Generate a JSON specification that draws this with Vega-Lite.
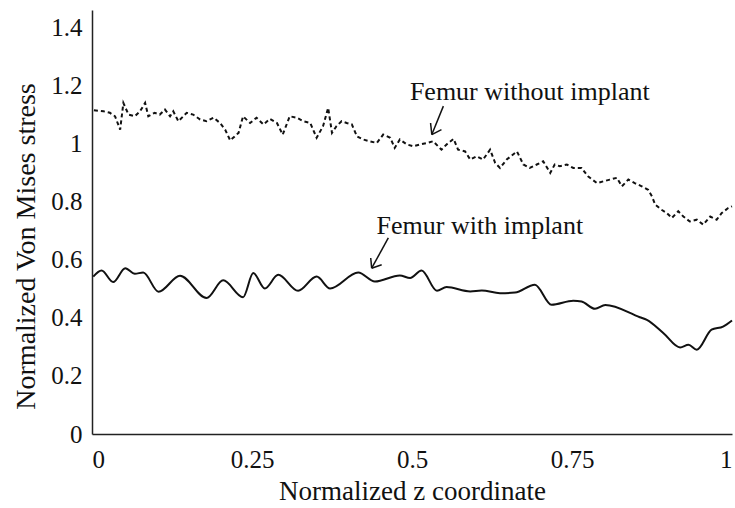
{
  "$schema": "https://vega.github.io/schema/vega-lite/v6.json",
  "width": 640,
  "height": 424,
  "autosize": {"type": "none"},
  "padding": {"left": 92, "top": 10, "right": 3, "bottom": 74},
  "background": "white",
  "config": {
    "view": {"stroke": null},
    "font": "Liberation Serif",
    "axis": {
      "ticks": false,
      "grid": false,
      "domainColor": "#222222",
      "domainWidth": 1.5,
      "labelFont": "Liberation Serif",
      "labelFontSize": 25,
      "labelColor": "#111111",
      "titleFont": "Liberation Serif",
      "titleFontSize": 27,
      "titleFontWeight": "normal",
      "titleColor": "#111111"
    }
  },
  "datasets": {
    "curves": [
      {"s": "with", "x": 0.002, "y": 0.542},
      {"s": "with", "x": 0.015, "y": 0.563},
      {"s": "with", "x": 0.033, "y": 0.523},
      {"s": "with", "x": 0.052, "y": 0.571},
      {"s": "with", "x": 0.067, "y": 0.552},
      {"s": "with", "x": 0.080, "y": 0.556},
      {"s": "with", "x": 0.104, "y": 0.490},
      {"s": "with", "x": 0.1375, "y": 0.545},
      {"s": "with", "x": 0.179, "y": 0.468},
      {"s": "with", "x": 0.205, "y": 0.529},
      {"s": "with", "x": 0.236, "y": 0.471},
      {"s": "with", "x": 0.252, "y": 0.554},
      {"s": "with", "x": 0.270, "y": 0.501},
      {"s": "with", "x": 0.291, "y": 0.548},
      {"s": "with", "x": 0.322, "y": 0.493},
      {"s": "with", "x": 0.351, "y": 0.542},
      {"s": "with", "x": 0.372, "y": 0.501},
      {"s": "with", "x": 0.416, "y": 0.556},
      {"s": "with", "x": 0.442, "y": 0.525},
      {"s": "with", "x": 0.481, "y": 0.546},
      {"s": "with", "x": 0.497, "y": 0.537},
      {"s": "with", "x": 0.515, "y": 0.563},
      {"s": "with", "x": 0.539, "y": 0.493},
      {"s": "with", "x": 0.554, "y": 0.506},
      {"s": "with", "x": 0.591, "y": 0.491},
      {"s": "with", "x": 0.609, "y": 0.494},
      {"s": "with", "x": 0.6375, "y": 0.485},
      {"s": "with", "x": 0.661, "y": 0.487},
      {"s": "with", "x": 0.692, "y": 0.514},
      {"s": "with", "x": 0.718, "y": 0.445},
      {"s": "with", "x": 0.752, "y": 0.459},
      {"s": "with", "x": 0.765, "y": 0.456},
      {"s": "with", "x": 0.786, "y": 0.431},
      {"s": "with", "x": 0.802, "y": 0.444},
      {"s": "with", "x": 0.856, "y": 0.402},
      {"s": "with", "x": 0.867, "y": 0.393},
      {"s": "with", "x": 0.893, "y": 0.347},
      {"s": "with", "x": 0.919, "y": 0.298},
      {"s": "with", "x": 0.932, "y": 0.307},
      {"s": "with", "x": 0.945, "y": 0.290},
      {"s": "with", "x": 0.968, "y": 0.359},
      {"s": "with", "x": 0.986, "y": 0.370},
      {"s": "with", "x": 1.0, "y": 0.391},
      {"s": "without", "x": 0.003, "y": 1.115},
      {"s": "without", "x": 0.018, "y": 1.111},
      {"s": "without", "x": 0.028, "y": 1.106},
      {"s": "without", "x": 0.036, "y": 1.094},
      {"s": "without", "x": 0.044, "y": 1.048},
      {"s": "without", "x": 0.049, "y": 1.140},
      {"s": "without", "x": 0.057, "y": 1.100},
      {"s": "without", "x": 0.067, "y": 1.094},
      {"s": "without", "x": 0.075, "y": 1.111},
      {"s": "without", "x": 0.083, "y": 1.140},
      {"s": "without", "x": 0.088, "y": 1.094},
      {"s": "without", "x": 0.098, "y": 1.106},
      {"s": "without", "x": 0.106, "y": 1.100},
      {"s": "without", "x": 0.114, "y": 1.117},
      {"s": "without", "x": 0.122, "y": 1.094},
      {"s": "without", "x": 0.127, "y": 1.111},
      {"s": "without", "x": 0.135, "y": 1.077},
      {"s": "without", "x": 0.148, "y": 1.106},
      {"s": "without", "x": 0.158, "y": 1.100},
      {"s": "without", "x": 0.169, "y": 1.083},
      {"s": "without", "x": 0.179, "y": 1.077},
      {"s": "without", "x": 0.190, "y": 1.089},
      {"s": "without", "x": 0.200, "y": 1.071},
      {"s": "without", "x": 0.208, "y": 1.048},
      {"s": "without", "x": 0.216, "y": 1.011},
      {"s": "without", "x": 0.229, "y": 1.037},
      {"s": "without", "x": 0.236, "y": 1.094},
      {"s": "without", "x": 0.247, "y": 1.071},
      {"s": "without", "x": 0.257, "y": 1.089},
      {"s": "without", "x": 0.268, "y": 1.066},
      {"s": "without", "x": 0.278, "y": 1.085},
      {"s": "without", "x": 0.289, "y": 1.071},
      {"s": "without", "x": 0.298, "y": 1.031},
      {"s": "without", "x": 0.309, "y": 1.094},
      {"s": "without", "x": 0.320, "y": 1.089},
      {"s": "without", "x": 0.330, "y": 1.077},
      {"s": "without", "x": 0.341, "y": 1.071},
      {"s": "without", "x": 0.351, "y": 1.020},
      {"s": "without", "x": 0.361, "y": 1.060},
      {"s": "without", "x": 0.369, "y": 1.123},
      {"s": "without", "x": 0.375, "y": 1.037},
      {"s": "without", "x": 0.382, "y": 1.060},
      {"s": "without", "x": 0.390, "y": 1.077},
      {"s": "without", "x": 0.398, "y": 1.071},
      {"s": "without", "x": 0.406, "y": 1.066},
      {"s": "without", "x": 0.414, "y": 1.025},
      {"s": "without", "x": 0.424, "y": 1.014},
      {"s": "without", "x": 0.434, "y": 1.008},
      {"s": "without", "x": 0.445, "y": 1.002},
      {"s": "without", "x": 0.455, "y": 1.031},
      {"s": "without", "x": 0.466, "y": 1.020},
      {"s": "without", "x": 0.473, "y": 0.985},
      {"s": "without", "x": 0.481, "y": 1.014},
      {"s": "without", "x": 0.492, "y": 0.997},
      {"s": "without", "x": 0.502, "y": 0.991},
      {"s": "without", "x": 0.5125, "y": 0.997},
      {"s": "without", "x": 0.523, "y": 1.002},
      {"s": "without", "x": 0.533, "y": 1.008},
      {"s": "without", "x": 0.546, "y": 0.979},
      {"s": "without", "x": 0.554, "y": 0.997},
      {"s": "without", "x": 0.565, "y": 1.016},
      {"s": "without", "x": 0.572, "y": 0.979},
      {"s": "without", "x": 0.583, "y": 0.973},
      {"s": "without", "x": 0.591, "y": 0.945},
      {"s": "without", "x": 0.601, "y": 0.956},
      {"s": "without", "x": 0.611, "y": 0.945},
      {"s": "without", "x": 0.622, "y": 0.979},
      {"s": "without", "x": 0.630, "y": 0.933},
      {"s": "without", "x": 0.6375, "y": 0.916},
      {"s": "without", "x": 0.648, "y": 0.945},
      {"s": "without", "x": 0.664, "y": 0.973},
      {"s": "without", "x": 0.674, "y": 0.928},
      {"s": "without", "x": 0.684, "y": 0.916},
      {"s": "without", "x": 0.695, "y": 0.928},
      {"s": "without", "x": 0.705, "y": 0.939},
      {"s": "without", "x": 0.716, "y": 0.899},
      {"s": "without", "x": 0.723, "y": 0.928},
      {"s": "without", "x": 0.731, "y": 0.922},
      {"s": "without", "x": 0.742, "y": 0.928},
      {"s": "without", "x": 0.752, "y": 0.916},
      {"s": "without", "x": 0.765, "y": 0.916},
      {"s": "without", "x": 0.775, "y": 0.887},
      {"s": "without", "x": 0.789, "y": 0.864},
      {"s": "without", "x": 0.799, "y": 0.870},
      {"s": "without", "x": 0.809, "y": 0.876},
      {"s": "without", "x": 0.820, "y": 0.882},
      {"s": "without", "x": 0.828, "y": 0.853},
      {"s": "without", "x": 0.838, "y": 0.876},
      {"s": "without", "x": 0.848, "y": 0.864},
      {"s": "without", "x": 0.859, "y": 0.853},
      {"s": "without", "x": 0.869, "y": 0.841},
      {"s": "without", "x": 0.875, "y": 0.818},
      {"s": "without", "x": 0.880, "y": 0.790},
      {"s": "without", "x": 0.890, "y": 0.772},
      {"s": "without", "x": 0.898, "y": 0.761},
      {"s": "without", "x": 0.906, "y": 0.744},
      {"s": "without", "x": 0.916, "y": 0.767},
      {"s": "without", "x": 0.924, "y": 0.749},
      {"s": "without", "x": 0.934, "y": 0.732},
      {"s": "without", "x": 0.945, "y": 0.738},
      {"s": "without", "x": 0.955, "y": 0.721},
      {"s": "without", "x": 0.966, "y": 0.749},
      {"s": "without", "x": 0.976, "y": 0.738},
      {"s": "without", "x": 0.984, "y": 0.761},
      {"s": "without", "x": 0.994, "y": 0.778},
      {"s": "without", "x": 1.0, "y": 0.784}
    ],
    "labels": [
      {"text": "Femur without implant", "x": 0.684, "y": 1.15},
      {"text": "Femur with implant", "x": 0.606, "y": 0.69}
    ],
    "arrows": [
      {"x": 0.549, "y": 1.129, "x2": 0.531, "y2": 1.031},
      {"x": 0.529, "y": 1.071, "x2": 0.531, "y2": 1.031},
      {"x": 0.546, "y": 1.048, "x2": 0.531, "y2": 1.031},
      {"x": 0.463, "y": 0.675, "x2": 0.437, "y2": 0.571},
      {"x": 0.4355, "y": 0.606, "x2": 0.437, "y2": 0.571},
      {"x": 0.4526, "y": 0.583, "x2": 0.437, "y2": 0.571}
    ]
  },
  "encoding": {
    "x": {
      "field": "x",
      "type": "quantitative",
      "scale": {"domain": [0, 1], "nice": false, "zero": false},
      "axis": {
        "title": "Normalized z coordinate",
        "values": [0, 0.25, 0.5, 0.75, 1],
        "labelExpr": "format(datum.value, '~g')",
        "labelPadding": 13,
        "titlePadding": 6
      }
    },
    "y": {
      "field": "y",
      "type": "quantitative",
      "scale": {"domain": [0, 1.46], "nice": false},
      "axis": {
        "title": "Normalized Von Mises stress",
        "titleFontSize": 28,
        "values": [0, 0.2, 0.4, 0.6, 0.8, 1, 1.2, 1.4],
        "labelExpr": "format(datum.value, '~g')",
        "labelPadding": 10,
        "titleX": -66,
        "titleY": 236,
        "titleBaseline": "middle"
      }
    }
  },
  "layer": [
    {
      "data": {"name": "curves"},
      "transform": [{"filter": "datum.s == 'without'"}],
      "mark": {"type": "line", "color": "#111111", "strokeWidth": 2, "strokeDash": [4, 3], "interpolate": "linear"}
    },
    {
      "data": {"name": "curves"},
      "transform": [{"filter": "datum.s == 'with'"}],
      "mark": {"type": "line", "color": "#111111", "strokeWidth": 2, "interpolate": "monotone"}
    },
    {
      "data": {"name": "arrows"},
      "mark": {"type": "rule", "color": "#111111", "strokeWidth": 1.5},
      "encoding": {
        "x2": {"field": "x2"},
        "y2": {"field": "y2"}
      }
    },
    {
      "data": {"name": "labels"},
      "mark": {"type": "text", "font": "Liberation Serif", "fontSize": 26, "color": "#111111", "align": "center", "baseline": "alphabetic"},
      "encoding": {
        "text": {"field": "text"}
      }
    }
  ]
}
